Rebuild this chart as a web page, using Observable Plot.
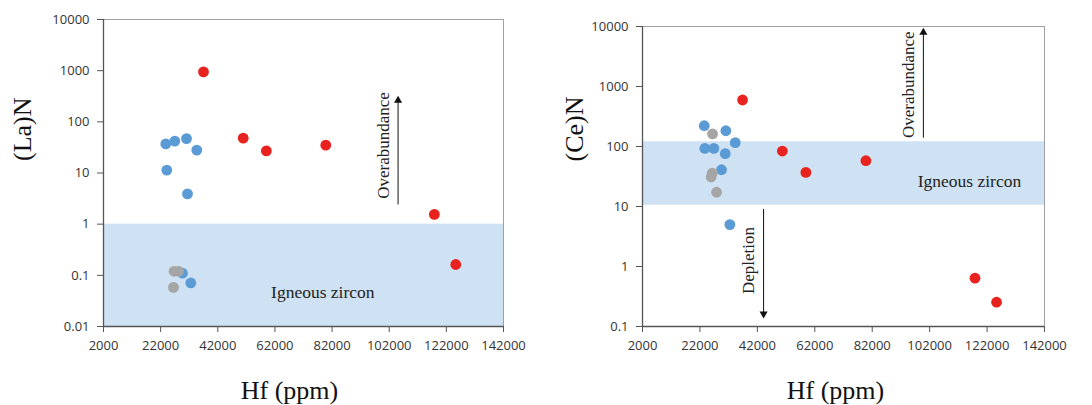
<!DOCTYPE html>
<html><head><meta charset="utf-8">
<script src="https://cdn.jsdelivr.net/npm/d3@7"></script>
<script src="https://cdn.jsdelivr.net/npm/@observablehq/plot@0.6"></script>
<style>
body{margin:0;background:#fff;}
#wrap{display:flex;width:1092px;height:405px;}
</style></head><body><div id="wrap"></div>
<script>
const xDomain = [2000, 142000];
const xTicks = [2000, 22000, 42000, 62000, 82000, 102000, 122000, 142000];
const laTicks = [0.01, 0.1, 1, 10, 100, 1000, 10000];
const ceTicks = [0.1, 1, 10, 100, 1000, 10000];

// (La)N panel
const laRedHf = [37000, 50900, 59000, 79800, 117800, 125300];
const laRedVal = [945, 48, 27, 35, 1.55, 0.163];
const laBlueHf = [23800, 26960, 31050, 34650, 24150, 31400, 29650, 32550];
const laBlueVal = [37, 42, 47, 28, 11.4, 3.9, 0.11, 0.071];
const laGrayHf = [26700, 28250, 26500];
const laGrayVal = [0.12, 0.12, 0.058];
const laBand = [0.01, 1];
const laIgneousAt = [78755, 0.047];
const laOverTextAt = [100100, 34.6];
const laOverArrow = [105100, 2.43, 263];

// (Ce)N panel
const ceRedHf = [36850, 50700, 58900, 79800, 117800, 125300];
const ceRedVal = [596, 84, 37, 58, 0.64, 0.254];
const ceBlueHf = [23500, 31030, 34300, 23710, 26850, 30820, 29530, 32430];
const ceBlueVal = [222, 183, 116, 93, 93, 76, 41, 5.0];
const ceGrayHf = [26400, 26300, 25900, 27800];
const ceGrayVal = [162, 36, 31, 17.3];
const ceBand = [10.5, 120];
const ceIgneousAt = [115850, 26.7];
const ceOverTextAt = [94800, 1070];
const ceOverArrow = [99820, 140, 7950];
const ceDeplTextAt = [39050, 1.26];
const ceDeplArrow = [44170, 9.1, 0.163];

const RED = "#e8231f", BLUE = "#5b9bd5", GRAY = "#a5a5a5", BAND = "#cfe2f3";
const SERIF = "Liberation Serif";

function pts(hf, v) { return d3.zip(hf, v); }

function panel(o) {
  const marks = [
    Plot.rect([o.band], {x1: () => xDomain[0], x2: () => xDomain[1], y1: d => d[0], y2: d => d[1], fill: BAND}),
    Plot.frame({stroke: "#a0a0a0", strokeWidth: 1}),
    Plot.axisX({ticks: xTicks, tickFormat: d => String(d), tickSize: 6, tickPadding: 8, label: null, stroke: "#555", fill: "#333"}),
    Plot.axisY({ticks: o.yTicks, tickFormat: d => String(d), tickSize: 6, tickPadding: 8, label: null, stroke: "#555", fill: "#333"}),
    Plot.ruleX([xDomain[0]], {stroke: "#555", strokeWidth: 1.3}),
    Plot.ruleY([o.yTicks[0]], {stroke: "#555", strokeWidth: 1.3}),
    Plot.dot(pts(o.blueHf, o.blueVal), {x: d => d[0], y: d => d[1], r: 5.4, fill: BLUE}),
    Plot.dot(pts(o.grayHf, o.grayVal), {x: d => d[0], y: d => d[1], r: 5.4, fill: GRAY}),
    Plot.dot(pts(o.redHf, o.redVal), {x: d => d[0], y: d => d[1], r: 5.4, fill: RED}),
    Plot.text(["Igneous zircon"], {x: () => o.igneous[0], y: () => o.igneous[1], fontFamily: SERIF, fontSize: 17.5, fill: "#222"}),
    Plot.text(["Overabundance"], {x: () => o.overText[0], y: () => o.overText[1], rotate: -90, fontFamily: SERIF, fontSize: 17, fill: "#222"}),
    Plot.link([o.overArrow], {x1: d => d[0], x2: d => d[0], y1: d => d[1], y2: d => d[2], stroke: "#111", strokeWidth: 1}),
    Plot.dot([o.overArrow], {x: d => d[0], y: d => d[2], symbol: "triangle", r: 3, fill: "#111"}),
    Plot.text([o.yLabel], {frameAnchor: "left", dx: o.yLabelDx, dy: o.yLabelDy, rotate: -90, fontFamily: SERIF, fontSize: 26, fill: "#111"}),
    Plot.text(["Hf (ppm)"], {frameAnchor: "bottom", lineAnchor: "middle", dx: o.xLabelDx, dy: 64, fontFamily: SERIF, fontSize: 26, fill: "#111"})
  ];
  if (o.deplText) {
    marks.push(
      Plot.text(["Depletion"], {x: () => o.deplText[0], y: () => o.deplText[1], rotate: -90, fontFamily: SERIF, fontSize: 17, fill: "#222"}),
      Plot.link([o.deplArrow], {x1: d => d[0], x2: d => d[0], y1: d => d[1], y2: d => d[2], stroke: "#111", strokeWidth: 1}),
      Plot.dot([o.deplArrow], {x: d => d[0], y: d => d[2], symbol: "triangle", rotate: 180, r: 3, fill: "#111"})
    );
  }
  return Plot.plot({
    width: 546, height: 405,
    marginLeft: o.ml, marginRight: o.mr, marginTop: o.mt, marginBottom: 79,
    style: {fontFamily: "Open Sans", fontSize: "13px", color: "#333", background: "#fff", overflow: "visible"},
    x: {domain: xDomain},
    y: {type: "log", domain: [o.yTicks[0], o.yTicks[o.yTicks.length - 1]]},
    marks
  });
}

const wrap = document.getElementById("wrap");
wrap.appendChild(panel({
  ml: 103, mr: 43, mt: 19, yTicks: laTicks, band: laBand,
  redHf: laRedHf, redVal: laRedVal, blueHf: laBlueHf, blueVal: laBlueVal, grayHf: laGrayHf, grayVal: laGrayVal,
  igneous: laIgneousAt, overText: laOverTextAt, overArrow: laOverArrow,
  yLabel: "(La)N", yLabelDx: -81, yLabelDy: -12, xLabelDx: -14
}));
wrap.appendChild(panel({
  ml: 96, mr: 48, mt: 26, yTicks: ceTicks, band: ceBand,
  redHf: ceRedHf, redVal: ceRedVal, blueHf: ceBlueHf, blueVal: ceBlueVal, grayHf: ceGrayHf, grayVal: ceGrayVal,
  igneous: ceIgneousAt, overText: ceOverTextAt, overArrow: ceOverArrow,
  deplText: ceDeplTextAt, deplArrow: ceDeplArrow,
  yLabel: "(Ce)N", yLabelDx: -68, yLabelDy: -15, xLabelDx: -8
}));
</script>
</body></html>
